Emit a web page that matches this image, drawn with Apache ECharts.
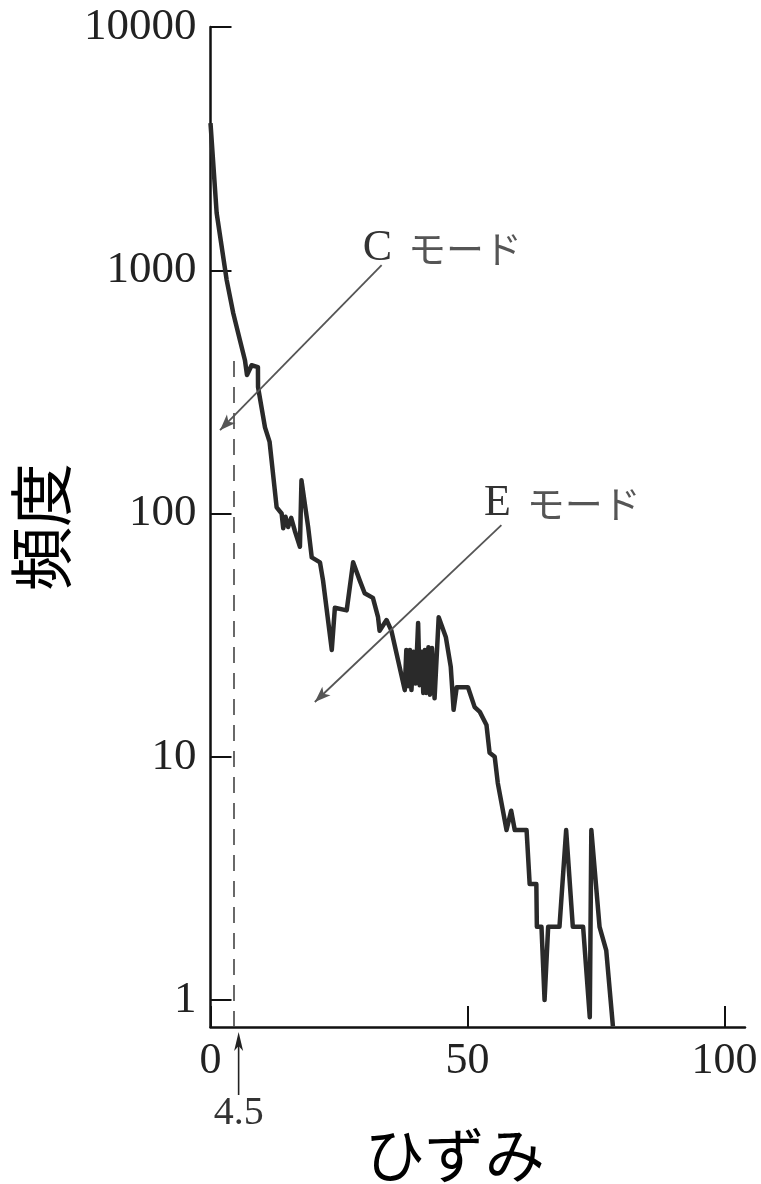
<!DOCTYPE html>
<html>
<head>
<meta charset="utf-8">
<script src="https://cdn.jsdelivr.net/npm/echarts@6/dist/echarts.min.js"></script>
<style>
  html, body { margin: 0; padding: 0; background: #fff; }
  #chart { width: 761px; height: 1184px; }
</style>
</head>
<body>
<div id="chart"></div>
<script>
// ひずみ（横軸）と頻度（縦軸・対数）
const strain = [0, 1.2, 3.15, 4.43, 5.73, 6.7, 7.1, 8.0, 9.23, 9.25, 10.6, 11.5, 12.87, 13.84, 14.15, 14.6, 15.1, 15.7, 16.4, 17.4,
  17.7, 19.0, 19.7, 21.3, 21.9, 23.6, 24.2, 26.5, 27.75, 29.05, 30.0, 31.6, 32.6, 32.9, 34.25, 35.2, 37.8, 38.1, 38.45, 38.8,
  39.1, 39.5, 39.9, 40.4, 40.7, 41.1, 41.4, 41.7, 42.0, 42.4, 42.7, 43.1, 43.6, 44.4, 45.8, 46.75, 47.3, 47.9, 50.1, 51.4,
  52.4, 53.7, 54.3, 55.3, 55.9, 57.6, 58.5, 59.2, 61.5, 62.1, 63.4, 63.5, 64.4, 65.0, 65.7, 67.9, 69.2, 70.5, 72.5, 73.8,
  74.1, 75.7, 77.0, 78.3]
const freq = [4025, 1717, 911, 666, 516, 427, 371, 407, 400, 331, 226, 197, 106, 100, 87, 97, 88, 96, 85, 73,
  137, 88, 66, 63, 53, 27.5, 41, 40, 63, 53, 47, 45, 37.5, 33, 36.5, 33, 18.8, 27.5, 19.5, 27.5,
  18.8, 27, 20, 35.5, 19.7, 27, 18.3, 27.5, 18.3, 28.2, 18, 28, 17.4, 37.5, 31, 23.4, 15.6, 19.3, 19.3, 16,
  15.3, 13.5, 10.4, 10, 7.8, 5.0, 6.0, 5.0, 5.0, 3.0, 3.0, 2.0, 2.0, 1.0, 2.0, 2.0, 5.0, 2.0, 2.0, 0.85,
  5.0, 2.0, 1.6, 0.78]

const xTicks = [0, 50, 100]
const yTicks = [1, 10, 100, 1000, 10000]
const xMax = 104
const yMin = 0.775
const yMax = 10000

// 4.5 の破線と矢印
const markX = 4.5
const markTop = 456

// モードの注記（文字の位置, 矢印の始点, 矢印の先）
const modeLabels = ['C', 'E']
const modeTextAt = [[29.6, 1233], [53.2, 110]]
const modeArrowFrom = [[33.3, 1050], [56.6, 89.6]]
const modeArrowTo = [[1.85, 220], [20.3, 16.8]]

const serif = '"Liberation Serif", "DejaVu Serif", serif'
const jp = '"Noto Sans CJK JP", sans-serif'

const chart = echarts.init(document.getElementById('chart'))

const arrowLines = modeLabels.map((m, i) => [
  { coord: modeArrowFrom[i], symbol: 'none', lineStyle: { color: '#555', width: 1.8, type: 'solid' } },
  { coord: modeArrowTo[i], symbol: 'arrow', symbolSize: [9, 16] }
])

const option = {
  backgroundColor: '#fff',
  animation: false,
  grid: { left: 210.5, top: 27, right: 16, bottom: 157, containLabel: false, outerBoundsMode: 'none' },
  xAxis: {
    type: 'value',
    min: 0,
    max: xMax,
    name: 'ひずみ',
    nameLocation: 'middle',
    nameGap: 98,
    nameTextStyle: { fontFamily: jp, fontSize: 60, color: '#000', padding: [0, 46, 0, 0] },
    axisLine: { show: true, lineStyle: { color: '#111', width: 2.5 } },
    axisTick: { show: true, inside: true, length: 21, customValues: xTicks, lineStyle: { color: '#111', width: 2 } },
    axisLabel: { customValues: xTicks, margin: 12, fontFamily: serif, fontSize: 44, color: '#222' },
    splitLine: { show: false }
  },
  yAxis: {
    type: 'log',
    logBase: 10,
    min: yMin,
    max: yMax,
    name: '頻度',
    nameLocation: 'middle',
    nameRotate: 90,
    nameGap: 113,
    nameTextStyle: { fontFamily: jp, fontSize: 64, color: '#000' },
    axisLine: { show: true, lineStyle: { color: '#111', width: 2.5 } },
    axisTick: { show: true, inside: true, length: 21, customValues: yTicks, lineStyle: { color: '#111', width: 2 } },
    axisLabel: {
      customValues: yTicks, margin: 14, fontFamily: serif, fontSize: 45, color: '#222',
      formatter: v => String(Math.round(v))
    },
    minorTick: { show: false },
    splitLine: { show: false }
  },
  series: [
    {
      name: '頻度',
      type: 'line',
      data: strain.map((x, i) => [x, freq[i]]),
      showSymbol: false,
      lineStyle: { color: '#2a2a2a', width: 4.5, join: 'round' },
      markLine: {
        silent: true,
        animation: false,
        label: { show: false },
        symbol: ['none', 'none'],
        data: [
          [
            { coord: [markX, yMin], lineStyle: { color: '#444', width: 1.6, type: [16, 10] } },
            { coord: [markX, markTop] }
          ],
          ...arrowLines
        ]
      }
    }
  ]
}

chart.setOption(option)

// 軸の下の「4.5」矢印と、モードの注記
const base = chart.convertToPixel({ gridIndex: 0 }, [markX, yMin])
const px = base[0] + 5
const py = base[1]
const graphics = [
  {
    type: 'line',
    shape: { x1: px, y1: py + 16, x2: px, y2: py + 68 },
    style: { stroke: '#222', lineWidth: 1.6 }
  },
  {
    type: 'polygon',
    shape: { points: [[px, py + 5], [px - 4.5, py + 24], [px, py + 19], [px + 4.5, py + 24]] },
    style: { fill: '#222' }
  },
  {
    type: 'text',
    x: px, y: py + 86,
    style: { text: '4.5', font: '40px ' + serif, fill: '#333', align: 'center', verticalAlign: 'middle' }
  }
]
modeLabels.forEach((m, i) => {
  const p = chart.convertToPixel({ gridIndex: 0 }, modeTextAt[i])
  graphics.push({
    type: 'text',
    x: p[0], y: p[1],
    style: {
      text: '{a|' + m + '}{b|モード}',
      align: 'left',
      verticalAlign: 'middle',
      rich: {
        a: { fontFamily: serif, fontSize: 44, fill: '#333' },
        b: { fontFamily: jp, fontSize: 38, fontWeight: 'normal', fill: '#555', padding: [0, 0, 0, 16] }
      }
    }
  })
})
chart.setOption({ graphic: graphics })
</script>
</body>
</html>
